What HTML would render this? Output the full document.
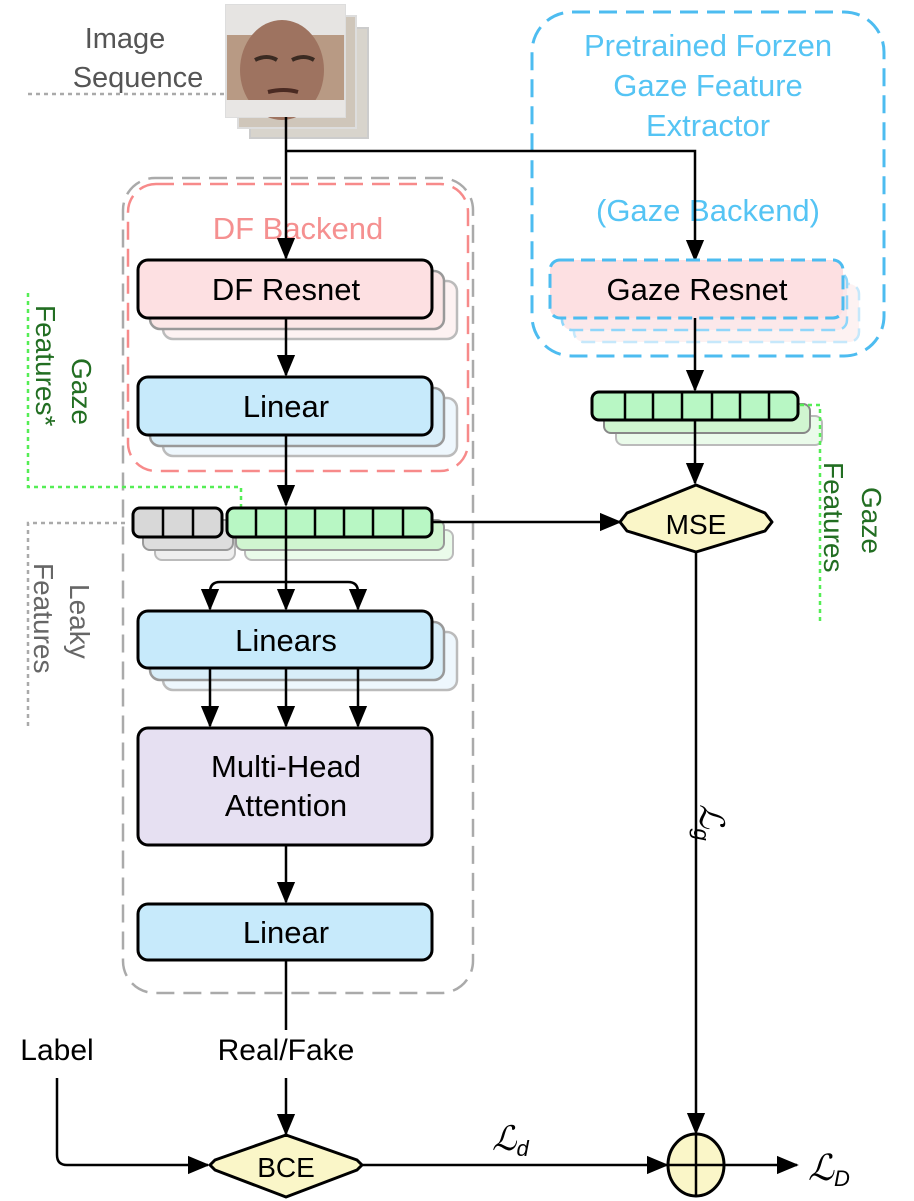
<!DOCTYPE html>
<html><head><meta charset="utf-8"><style>
html,body{margin:0;padding:0;background:#fff}
svg{display:block}
text{font-family:"Liberation Sans",sans-serif}
</style></head><body>
<svg width="914" height="1201" viewBox="0 0 914 1201" xmlns="http://www.w3.org/2000/svg">
<defs>
<marker id="a" viewBox="0 0 12 12" refX="11" refY="6" markerWidth="22" markerHeight="22" orient="auto" markerUnits="userSpaceOnUse"><path d="M0,1 L12,6 L0,11 z" fill="#000"/></marker>
</defs>

<!-- Image Sequence label -->
<text x="125" y="48" font-size="29" fill="#555" text-anchor="middle">Image</text>
<text x="138" y="87" font-size="29" fill="#555" text-anchor="middle">Sequence</text>
<line x1="28" y1="94" x2="226" y2="94" stroke="#aaa" stroke-width="2.5" stroke-dasharray="4,4"/>

<!-- face images -->
<rect x="250" y="28" width="118" height="110" fill="#d8d4cc" stroke="#ccc" stroke-width="2"/>
<rect x="238" y="16" width="118" height="112" fill="#cfc6ba" stroke="#ddd" stroke-width="2"/>
<rect x="226" y="5" width="119" height="112" fill="#b89a84" stroke="#ddd" stroke-width="2"/>
<rect x="226" y="5" width="119" height="30" fill="#e6e4e2"/>
<ellipse cx="282" cy="70" rx="42" ry="50" fill="#9e7360"/>
<rect x="226" y="100" width="119" height="17" fill="#e8e6e4"/>
<path d="M255 60 q12 -6 22 0 M292 60 q12 -6 22 0" stroke="#3a2a22" stroke-width="4" fill="none"/>
<path d="M268 92 q16 -4 30 0" stroke="#4a2a22" stroke-width="4" fill="none"/>

<!-- containers -->
<rect x="123" y="178" width="350" height="815" rx="32" fill="none" stroke="#aaa" stroke-width="2.5" stroke-dasharray="18,9"/>
<rect x="128" y="184" width="340" height="287" rx="28" fill="none" stroke="#f78a8a" stroke-width="2.5" stroke-dasharray="18,9"/>
<text x="298" y="239" font-size="31" fill="#f59090" text-anchor="middle">DF Backend</text>

<rect x="532" y="12" width="352" height="344" rx="40" fill="none" stroke="#4dbcf0" stroke-width="3" stroke-dasharray="18,9"/>
<g font-size="31" fill="#55c4f4" text-anchor="middle">
<text x="708" y="56">Pretrained Forzen</text>
<text x="708" y="96">Gaze Feature</text>
<text x="708" y="136">Extractor</text>
<text x="708" y="221">(Gaze Backend)</text>
</g>

<!-- main arrows top -->
<line x1="286" y1="117" x2="286" y2="258" stroke="#000" stroke-width="2.5" marker-end="url(#a)"/>
<polyline points="286,151 695,151 695,260" fill="none" stroke="#000" stroke-width="2.5" marker-end="url(#a)"/>

<!-- DF Resnet -->
<rect x="163" y="281" width="294" height="58" rx="10" fill="#fdf2f2" stroke="#bbb" stroke-width="2.5"/>
<rect x="150" y="271" width="294" height="58" rx="10" fill="#fbe6e6" stroke="#999" stroke-width="2.5"/>
<rect x="138" y="260" width="294" height="58" rx="10" fill="#fde0e2" stroke="#000" stroke-width="3"/>
<text x="286" y="300" font-size="31" text-anchor="middle">DF Resnet</text>
<line x1="286" y1="318" x2="286" y2="375" stroke="#000" stroke-width="2.5" marker-end="url(#a)"/>

<!-- Linear 1 -->
<rect x="163" y="398" width="294" height="58" rx="10" fill="#eef7fd" stroke="#bbb" stroke-width="2.5"/>
<rect x="150" y="388" width="294" height="58" rx="10" fill="#d8eef9" stroke="#999" stroke-width="2.5"/>
<rect x="138" y="377" width="294" height="58" rx="10" fill="#c7eafb" stroke="#000" stroke-width="3"/>
<text x="286" y="417" font-size="31" text-anchor="middle">Linear</text>
<line x1="286" y1="435" x2="286" y2="505" stroke="#000" stroke-width="2.5" marker-end="url(#a)"/>

<!-- Gaze Features* dotted -->
<polyline points="28,293 28,487 241,487 241,507" fill="none" stroke="#55ee55" stroke-width="2.5" stroke-dasharray="4,4"/>
<g font-size="28" fill="#226e22">
<text transform="translate(72,358) rotate(90)" >Gaze</text>
<text transform="translate(36,305) rotate(90)">Features*</text>
</g>
<!-- Leaky dotted -->
<polyline points="125,523 28,523 28,727" fill="none" stroke="#aaa" stroke-width="2.5" stroke-dasharray="4,4"/>
<g font-size="28" fill="#666">
<text transform="translate(70,584) rotate(90)">Leaky</text>
<text transform="translate(34,563) rotate(90)">Features</text>
</g>

<!-- left feature bar -->
<rect x="155" y="530" width="80" height="30" rx="7" fill="#eee" stroke="#bbb" stroke-width="2"/>
<rect x="245" y="530" width="208" height="30" rx="7" fill="#eafbea" stroke="#bbb" stroke-width="2"/>
<rect x="143" y="520" width="90" height="30" rx="7" fill="#ddd" stroke="#999" stroke-width="2"/>
<rect x="236" y="520" width="208" height="30" rx="7" fill="#d0f5d0" stroke="#999" stroke-width="2"/>
<rect x="133" y="508" width="89" height="29" rx="7" fill="#d8d8d8" stroke="#000" stroke-width="3"/>
<rect x="227" y="508" width="205" height="29" rx="7" fill="#b8f7c4" stroke="#000" stroke-width="3"/>
<g stroke="#000" stroke-width="2.5">
<line x1="163" y1="508" x2="163" y2="537"/><line x1="193" y1="508" x2="193" y2="537"/>
<line x1="256" y1="508" x2="256" y2="537"/><line x1="286" y1="508" x2="286" y2="537"/><line x1="315" y1="508" x2="315" y2="537"/><line x1="344" y1="508" x2="344" y2="537"/><line x1="373" y1="508" x2="373" y2="537"/><line x1="403" y1="508" x2="403" y2="537"/>
</g>
<line x1="432" y1="522" x2="620" y2="522" stroke="#000" stroke-width="2.5" marker-end="url(#a)"/>

<!-- to Linears -->
<line x1="286" y1="537" x2="286" y2="609" stroke="#000" stroke-width="2.5" marker-end="url(#a)"/>
<path d="M286,582 L220,582 Q210,582 210,592 L210,609" fill="none" stroke="#000" stroke-width="2.5" marker-end="url(#a)"/>
<path d="M286,582 L348,582 Q358,582 358,592 L358,609" fill="none" stroke="#000" stroke-width="2.5" marker-end="url(#a)"/>

<!-- Linears -->
<rect x="163" y="632" width="294" height="58" rx="10" fill="#eef7fd" stroke="#bbb" stroke-width="2.5"/>
<rect x="150" y="622" width="294" height="58" rx="10" fill="#d8eef9" stroke="#999" stroke-width="2.5"/>
<rect x="138" y="611" width="294" height="57" rx="10" fill="#c7eafb" stroke="#000" stroke-width="3"/>
<text x="286" y="651" font-size="31" text-anchor="middle">Linears</text>
<g stroke="#000" stroke-width="2.5">
<line x1="210" y1="668" x2="210" y2="726" marker-end="url(#a)"/>
<line x1="286" y1="668" x2="286" y2="726" marker-end="url(#a)"/>
<line x1="358" y1="668" x2="358" y2="726" marker-end="url(#a)"/>
</g>

<!-- MHA -->
<rect x="138" y="728" width="294" height="117" rx="10" fill="#e6e0f2" stroke="#000" stroke-width="3"/>
<text x="286" y="777" font-size="31" text-anchor="middle">Multi-Head</text>
<text x="286" y="816" font-size="31" text-anchor="middle">Attention</text>
<line x1="286" y1="845" x2="286" y2="902" stroke="#000" stroke-width="2.5" marker-end="url(#a)"/>

<!-- Linear final -->
<rect x="138" y="904" width="294" height="56" rx="10" fill="#c7eafb" stroke="#000" stroke-width="3"/>
<text x="286" y="943" font-size="31" text-anchor="middle">Linear</text>
<line x1="286" y1="960" x2="286" y2="1030" stroke="#000" stroke-width="2.5"/>

<text x="286" y="1060" font-size="30" text-anchor="middle">Real/Fake</text>
<text x="57" y="1060" font-size="30" text-anchor="middle">Label</text>
<line x1="286" y1="1078" x2="286" y2="1134" stroke="#000" stroke-width="2.5" marker-end="url(#a)"/>
<path d="M57,1078 L57,1155 Q57,1165 67,1165 L208,1165" fill="none" stroke="#000" stroke-width="2.5" marker-end="url(#a)"/>

<!-- BCE -->
<polygon points="286,1135 357,1160 362,1165 357,1170 286,1197 215,1170 210,1165 215,1160" fill="#faf6c8" stroke="#000" stroke-width="3" stroke-linejoin="round"/>
<text x="286" y="1177" font-size="28" text-anchor="middle">BCE</text>
<line x1="362" y1="1165" x2="667" y2="1165" stroke="#000" stroke-width="2.5" marker-end="url(#a)"/>
<text x="492" y="1150" font-size="34" font-style="italic" font-family="Liberation Serif,serif">ℒ<tspan font-size="22" dy="6">d</tspan></text>

<!-- sum -->
<ellipse cx="696" cy="1165" rx="28" ry="31" fill="#faf6c8" stroke="#000" stroke-width="3"/>
<line x1="668" y1="1165" x2="724" y2="1165" stroke="#000" stroke-width="2.5"/>
<line x1="696" y1="1134" x2="696" y2="1196" stroke="#000" stroke-width="2.5"/>
<line x1="724" y1="1165" x2="797" y2="1165" stroke="#000" stroke-width="2.5" marker-end="url(#a)"/>
<text x="808" y="1180" font-size="36" font-style="italic" font-family="Liberation Serif,serif">ℒ<tspan font-size="22" dy="6">D</tspan></text>

<!-- Gaze resnet -->
<rect x="574" y="284" width="285" height="58" rx="10" fill="#fdf2f2" stroke="#c6e8fb" stroke-width="2.5" stroke-dasharray="14,7"/>
<rect x="562" y="272" width="285" height="58" rx="10" fill="#fbe8ea" stroke="#8fd6fa" stroke-width="2.5" stroke-dasharray="14,7"/>
<rect x="550" y="260" width="293" height="58" rx="10" fill="#fde0e2" stroke="#4dbcf0" stroke-width="3" stroke-dasharray="14,7"/>
<text x="697" y="300" font-size="31" text-anchor="middle">Gaze Resnet</text>
<line x1="695" y1="318" x2="695" y2="390" stroke="#000" stroke-width="2.5" marker-end="url(#a)"/>

<!-- right feature bar -->
<rect x="616" y="416" width="206" height="29" rx="7" fill="#eafbea" stroke="#bbb" stroke-width="2"/>
<rect x="604" y="404" width="206" height="29" rx="7" fill="#d0f5d0" stroke="#888" stroke-width="2"/>
<rect x="592" y="392" width="206" height="28" rx="7" fill="#b8f7c4" stroke="#000" stroke-width="3"/>
<g stroke="#000" stroke-width="2.5">
<line x1="625" y1="392" x2="625" y2="420"/><line x1="653" y1="392" x2="653" y2="420"/><line x1="682" y1="392" x2="682" y2="420"/><line x1="712" y1="392" x2="712" y2="420"/><line x1="740" y1="392" x2="740" y2="420"/><line x1="769" y1="392" x2="769" y2="420"/>
</g>
<polyline points="800,405 820,405 820,622" fill="none" stroke="#55ee55" stroke-width="2.5" stroke-dasharray="4,4"/>
<g font-size="28" fill="#226e22">
<text transform="translate(862,487) rotate(90)">Gaze</text>
<text transform="translate(824,462) rotate(90)">Features</text>
</g>
<line x1="695" y1="420" x2="695" y2="483" stroke="#000" stroke-width="2.5" marker-end="url(#a)"/>

<!-- MSE -->
<polygon points="696,485 765,513 772,522 765,531 696,552 627,531 620,522 627,513" fill="#faf6c8" stroke="#000" stroke-width="3" stroke-linejoin="round"/>
<text x="696" y="534" font-size="28" text-anchor="middle">MSE</text>
<line x1="696" y1="552" x2="696" y2="1133" stroke="#000" stroke-width="2.5" marker-end="url(#a)"/>
<text transform="translate(700,804) rotate(90)" font-size="34" font-style="italic" font-family="Liberation Serif,serif">ℒ<tspan font-size="22" dy="6">g</tspan></text>
</svg>
</body></html>
